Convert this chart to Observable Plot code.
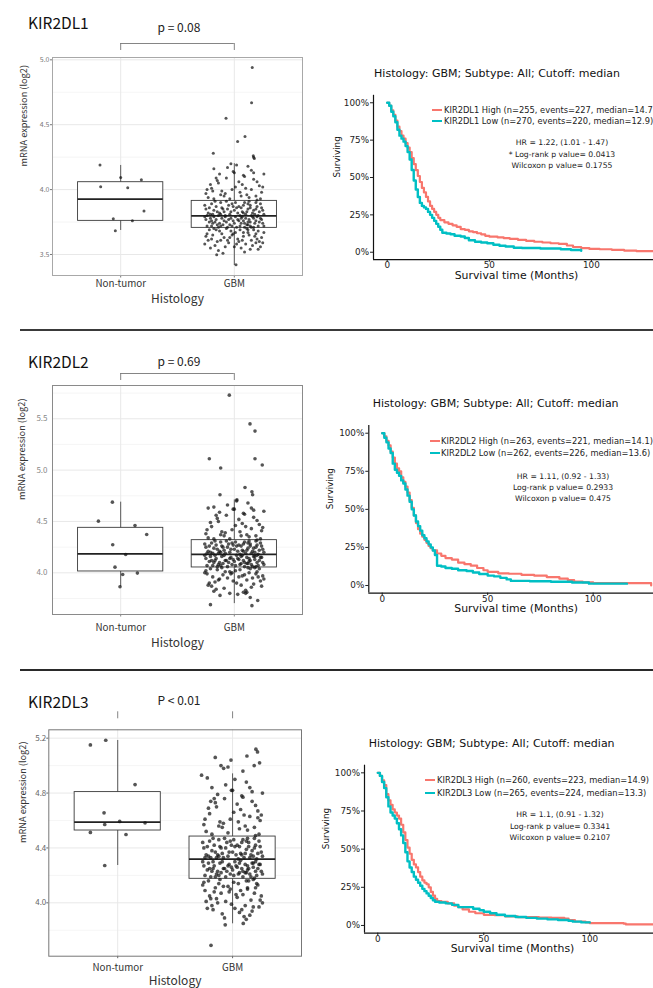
<!DOCTYPE html>
<html><head><meta charset="utf-8">
<script src="https://cdn.jsdelivr.net/npm/d3@7"></script>
<script src="https://cdn.jsdelivr.net/npm/@observablehq/plot@0.6"></script>
<style>
html,body{margin:0;padding:0;background:#fff}
#fig{position:relative;width:653px;height:988px;overflow:hidden;background:#fff}
#fig svg{position:absolute}
.box g[aria-label^="x-axis"] text{font-size:9.8px;fill:#333}
.lbl{position:absolute;white-space:nowrap;line-height:1}
</style></head>
<body><div id="fig"></div>
<script>
// ---------------- data ----------------
const histology = ["Non-tumor", "GBM"];
const genes = ["KIR2DL1", "KIR2DL2", "KIR2DL3"];
const pLabels = ["p = 0.08", "p = 0.69", "P < 0.01"];
const kmTitle = "Histology: GBM; Subtype: All; Cutoff: median";
const legendHigh = ["KIR2DL1 High (n=255, events=227, median=14.7)", "KIR2DL2 High (n=263, events=221, median=14.1)", "KIR2DL3 High (n=260, events=223, median=14.9)"];
const legendLow = ["KIR2DL1 Low (n=270, events=220, median=12.9)", "KIR2DL2 Low (n=262, events=226, median=13.6)", "KIR2DL3 Low (n=265, events=224, median=13.3)"];
const hrText = ["HR = 1.22, (1.01 - 1.47)", "HR = 1.11, (0.92 - 1.33)", "HR = 1.1, (0.91 - 1.32)"];
const logrankText = ["* Log-rank p value= 0.0413", "Log-rank p value= 0.2933", "Log-rank p value= 0.3341"];
const wilcoxText = ["Wilcoxon p value= 0.1755", "Wilcoxon p value= 0.475", "Wilcoxon p value= 0.2107"];

const yTicks1 = [3.5, 4.0, 4.5, 5.0], yMinor1 = [3.75, 4.25, 4.75];
const yTicks2 = [4.0, 4.5, 5.0, 5.5], yMinor2 = [3.75, 4.25, 4.75, 5.25, 5.75];
const yTicks3 = [4.0, 4.4, 4.8, 5.2], yMinor3 = [3.8, 4.2, 4.6, 5.0];
const kmXTicks = [0, 50, 100];
const kmYTicks = [0, 25, 50, 75, 100];

// box statistics (g: 1 = Non-tumor, 2 = GBM)
const box1 = [{g:1, lo:3.685, q1:3.759, med:3.926, q3:4.057, hi:4.186}, {g:2, lo:3.415, q1:3.705, med:3.798, q3:3.913, hi:4.20}];
const box2 = [{g:1, lo:3.864, q1:4.013, med:4.185, q3:4.438, hi:4.688}, {g:2, lo:3.70, q1:4.052, med:4.179, q3:4.318, hi:4.71}];
const box3 = [{g:1, lo:4.272, q1:4.527, med:4.588, q3:4.807, hi:5.183}, {g:2, lo:3.847, q1:4.175, med:4.318, q3:4.483, hi:4.94}];

// jittered points: [horizontal jitter, expression]
const nonTumor1 = [[-.182,4.19],[0,4.093],[-.176,4.021],[.062,4.014],[.182,4.075],[.205,3.836],[-.065,3.775],[.103,3.759],[-.047,3.682]];
const nonTumor2 = [[-.073,4.688],[-.196,4.503],[.126,4.461],[.229,4.373],[-.07,4.273],[.044,4.179],[-.05,4.055],[.018,3.984],[.147,3.997],[-.006,3.864]];
const nonTumor3 = [[-.238,5.151],[-.104,5.185],[.151,4.862],[-.119,4.656],[-.113,4.571],[.017,4.593],[.238,4.583],[-.238,4.513],[.072,4.498],[-.113,4.272]];

const gbm1 = [[-.18,3.70],[.05,3.69],[.21,3.68],[-.07,3.70],[.12,3.67],[-.24,3.66],[.17,3.69],[-.02,3.65],[.08,3.64],[-.13,3.68],[.24,3.63],[-.20,3.62],[.01,3.67],[.15,3.61],[-.09,3.63],[.19,3.66],[-.15,3.60],[.10,3.58],[-.25,3.64],[.03,3.62],[.22,3.60],[-.05,3.59],[.13,3.65],[-.17,3.57],[.07,3.61],[-.11,3.66],[.25,3.59],[-.22,3.69],[.00,3.56],[.16,3.57],[-.03,3.68],[.11,3.70],[-.19,3.65],[.06,3.55],[.20,3.62],[-.12,3.61],[.14,3.54],[-.26,3.58],[.04,3.60],[-.08,3.56],[.23,3.56],[-.14,3.53],[.09,3.52],[-.21,3.55],[.18,3.64],[-.01,3.66],[.26,3.67],[-.16,3.69],[.02,3.58],[.12,3.69],[-.06,3.61],[.21,3.54],[-.23,3.61],[.08,3.67],[-.10,3.51],[.19,3.59],[-.04,3.63],[-.155,3.497],[.015,3.42],
[-.20,3.72],[.06,3.74],[.17,3.71],[-.09,3.76],[.23,3.78],[-.15,3.73],[.01,3.79],[.12,3.75],[-.25,3.77],[.09,3.71],[-.04,3.73],[.19,3.76],[-.18,3.79],[.14,3.72],[-.11,3.78],[.03,3.77],[.25,3.74],[-.22,3.75],[.07,3.79],[-.06,3.71],[.16,3.79],[-.13,3.74],[.21,3.72],[-.01,3.76],[.10,3.78],[-.24,3.72],[.05,3.72],[-.16,3.77],[.18,3.74],[-.08,3.79],[.13,3.77],[-.20,3.76],[.00,3.74],[.24,3.77],[-.12,3.72],[.08,3.76],[-.03,3.78],[.15,3.71],[-.19,3.74],[.11,3.73],[-.07,3.75],[.22,3.75],[-.26,3.79],[.02,3.71],[.17,3.78],[-.14,3.71],[.06,3.78],[-.10,3.73],[.20,3.79],[-.05,3.77],[.14,3.75],[-.21,3.78],[.09,3.74],[-.02,3.72],[.26,3.72],[-.17,3.75],[.04,3.76],[.12,3.73],
[-.19,3.81],[.07,3.83],[.21,3.80],[-.06,3.85],[.14,3.88],[-.23,3.82],[.02,3.86],[.17,3.84],[-.12,3.90],[.10,3.81],[-.02,3.89],[.24,3.86],[-.16,3.87],[.05,3.80],[-.09,3.83],[.19,3.90],[-.25,3.85],[.12,3.85],[-.04,3.81],[.22,3.83],[-.14,3.80],[.00,3.84],[.16,3.82],[-.20,3.89],[.08,3.88],[-.11,3.86],[.26,3.81],[-.07,3.91],[.13,3.91],[-.18,3.84],[.03,3.82],[.20,3.87],[-.24,3.80],[.09,3.90],[-.01,3.87],[.15,3.80],[-.13,3.82],[.06,3.86],[-.22,3.86],[.18,3.81],[-.05,3.88],[.11,3.83],[-.17,3.91],[.23,3.89],[-.08,3.80],[.01,3.90],[.14,3.86],[-.15,3.83],[.25,3.84],[-.10,3.85],[.04,3.87],[-.21,3.81],[.19,3.85],[-.03,3.83],[.08,3.82],[-.26,3.88],[.12,3.89],[-.12,3.81],
[-.18,3.93],[.06,3.95],[.20,3.92],[-.08,3.97],[.15,4.00],[-.23,3.94],[.01,4.02],[.11,3.96],[-.14,4.05],[.24,3.98],[-.04,3.93],[.17,4.08],[-.20,4.01],[.08,4.11],[-.11,3.99],[.22,4.03],[-.01,4.14],[.13,3.94],[-.25,3.97],[.04,4.06],[-.16,4.09],[.19,3.95],[-.06,4.17],[.10,4.01],[-.21,4.04],[.26,4.12],[-.09,3.95],[.15,4.15],[-.13,4.12],[.02,4.19],[.20,4.06],[-.02,4.00],[.07,4.04],[-.18,4.16],[.23,3.93],[-.07,4.09],[.12,4.18],[-.24,4.00],[.17,4.13],[-.12,3.96],[.05,3.98],[-.03,4.20],[.09,4.10],[-.15,4.07],[.25,4.02],[.00,4.13],[-.19,3.99],
[.158,4.94],[.152,4.67],[-.073,4.55],[.094,4.41],[.029,4.37],[-.185,4.28],[.167,4.26],[.176,4.24],[.17,4.25]];

const gbm2 = [[-.21,4.04],[.05,4.03],[.18,4.05],[-.08,4.01],[.13,4.00],[-.25,4.02],[.22,4.04],[-.03,3.99],[.09,3.98],[-.15,4.03],[.25,3.97],[-.19,3.96],[.01,4.02],[.16,3.95],[-.10,3.98],[.20,4.01],[-.13,3.94],[.11,3.93],[-.24,3.99],[.04,3.96],[.23,3.92],[-.06,3.95],[.14,4.04],[-.17,3.91],[.07,3.97],[-.11,4.05],[.26,3.94],[-.22,3.90],[-.01,3.92],[.17,3.89],[-.04,4.01],[.12,4.05],[-.20,3.87],[.06,3.88],[.19,3.99],[-.14,3.93],[.15,3.86],[-.26,4.00],[.02,3.90],[-.09,3.85],[.24,3.87],[-.16,3.84],[.10,3.83],[-.23,3.88],[.21,3.96],[-.02,4.00],[.08,3.81],[-.18,3.82],[.03,3.79],[-.126,3.78],[-.04,3.80],[.10,3.80],[.11,3.81],[.206,3.73],[-.21,3.69],[.155,3.68],[.14,3.76],
[-.19,4.07],[.06,4.09],[.19,4.06],[-.08,4.12],[.24,4.15],[-.14,4.08],[.02,4.17],[.13,4.11],[-.25,4.14],[.09,4.06],[-.05,4.10],[.18,4.13],[-.17,4.17],[.15,4.08],[-.11,4.16],[.03,4.14],[.25,4.10],[-.22,4.11],[.07,4.17],[-.06,4.06],[.17,4.16],[-.13,4.10],[.21,4.07],[-.01,4.13],[.11,4.15],[-.24,4.07],[.05,4.08],[-.16,4.14],[.20,4.10],[-.09,4.17],[.13,4.14],[-.20,4.12],[.00,4.11],[.23,4.15],[-.12,4.07],[.08,4.12],[-.03,4.15],[.16,4.06],[-.18,4.10],[.11,4.09],[-.07,4.12],[.22,4.12],[-.26,4.17],[.01,4.07],[.18,4.16],[-.15,4.06],[.06,4.16],[-.10,4.09],[.20,4.17],[-.04,4.14],[.14,4.12],[-.21,4.16],[.09,4.10],[-.02,4.08],[.26,4.08],[-.17,4.12],[.04,4.13],[.12,4.09],
[-.19,4.19],[.07,4.22],[.21,4.18],[-.06,4.25],[.14,4.28],[-.23,4.21],[.02,4.26],[.17,4.24],[-.12,4.30],[.10,4.19],[-.02,4.29],[.24,4.26],[-.16,4.27],[.05,4.18],[-.09,4.22],[.19,4.31],[-.25,4.25],[.12,4.24],[-.04,4.20],[.22,4.22],[-.14,4.19],[.00,4.23],[.16,4.21],[-.20,4.29],[.08,4.28],[-.11,4.26],[.26,4.20],[-.07,4.31],[.13,4.31],[-.18,4.24],[.03,4.21],[.20,4.27],[-.24,4.19],[.09,4.30],[-.01,4.27],[.15,4.19],[-.13,4.21],[.06,4.26],[-.22,4.26],[.18,4.20],[-.05,4.28],[.11,4.22],[-.17,4.31],[.23,4.29],[-.08,4.19],[.01,4.30],[.14,4.26],[-.15,4.23],[.25,4.23],[-.10,4.25],[.04,4.27],[-.21,4.20],[.19,4.25],[-.03,4.23],[.08,4.21],[-.26,4.28],[.12,4.29],[-.12,4.20],
[-.18,4.33],[.06,4.36],[.20,4.32],[-.08,4.39],[.15,4.43],[-.23,4.34],[.01,4.46],[.11,4.37],[-.14,4.50],[.24,4.41],[-.04,4.33],[.17,4.54],[-.20,4.45],[.08,4.58],[-.11,4.40],[.22,4.47],[-.01,4.62],[.13,4.35],[-.25,4.38],[.04,4.52],[-.16,4.56],[.19,4.36],[-.06,4.66],[.10,4.45],[-.21,4.49],[.26,4.60],[-.09,4.36],[.15,4.63],[-.13,4.59],[.02,4.70],[.20,4.51],[-.02,4.42],[.07,4.48],[-.18,4.64],[.23,4.33],[-.07,4.56],[.12,4.68],[-.24,4.42],[.17,4.61],[-.12,4.37],[.05,4.40],[.09,4.57],[-.15,4.53],[.25,4.44],[.00,4.62],
[-.044,5.73],[.138,5.45],[.182,5.38],[-.22,5.11],[.182,5.11],[.246,5.05],[-.12,5.02],[.094,4.83],[.155,4.79],[-.126,4.76],[.161,4.76],[.023,4.71],[-.23,4.63]];

const gbm3 = [[-.21,4.16],[.05,4.14],[.18,4.17],[-.08,4.12],[.13,4.10],[-.25,4.15],[.22,4.13],[-.03,4.08],[.09,4.06],[-.15,4.11],[.25,4.05],[-.19,4.03],[.01,4.15],[.16,4.02],[-.10,4.07],[.20,4.11],[-.13,4.00],[.11,3.98],[-.24,4.09],[.04,4.04],[.23,3.97],[-.06,4.01],[.14,4.16],[-.17,3.95],[.07,4.09],[-.11,4.17],[.26,4.00],[-.22,3.96],[-.01,3.99],[.17,3.94],[-.04,4.12],[.12,4.16],[-.20,4.05],[.06,3.93],[.19,4.07],[-.14,4.03],[.15,3.91],[-.26,4.13],[.02,3.96],[-.09,3.92],[.24,4.02],[-.16,4.08],[.10,3.90],[-.23,4.01],[.21,4.14],[-.02,4.10],[.08,3.95],[-.18,3.98],[.03,4.06],[-.12,4.14],[.13,4.11],[-.188,3.69],[-.064,3.84],[.093,3.85],[.119,3.88],[-.07,3.89],[.18,3.97],
[-.19,4.19],[.06,4.22],[.19,4.18],[-.08,4.25],[.24,4.28],[-.14,4.21],[.02,4.30],[.13,4.24],[-.25,4.27],[.09,4.19],[-.05,4.23],[.18,4.26],[-.17,4.30],[.15,4.21],[-.11,4.29],[.03,4.27],[.25,4.23],[-.22,4.24],[.07,4.31],[-.06,4.19],[.17,4.29],[-.13,4.23],[.21,4.20],[-.01,4.26],[.11,4.28],[-.24,4.20],[.05,4.21],[-.16,4.27],[.20,4.23],[-.09,4.30],[.13,4.27],[-.20,4.25],[.00,4.24],[.23,4.28],[-.12,4.20],[.08,4.25],[-.03,4.28],[.16,4.19],[-.18,4.23],[.11,4.22],[-.07,4.25],[.22,4.25],[-.26,4.30],[.01,4.20],[.18,4.29],[-.15,4.19],[.06,4.29],[-.10,4.22],[.20,4.30],[-.04,4.27],[.14,4.25],[-.21,4.29],[.09,4.23],[-.02,4.21],[.26,4.21],[-.17,4.25],[.04,4.26],[.12,4.22],
[-.19,4.33],[.07,4.36],[.21,4.32],[-.06,4.40],[.14,4.44],[-.23,4.35],[.02,4.41],[.17,4.38],[-.12,4.46],[.10,4.33],[-.02,4.45],[.24,4.41],[-.16,4.42],[.05,4.32],[-.09,4.36],[.19,4.47],[-.25,4.40],[.12,4.39],[-.04,4.34],[.22,4.36],[-.14,4.33],[.00,4.37],[.16,4.35],[-.20,4.45],[.08,4.44],[-.11,4.41],[.26,4.34],[-.07,4.47],[.13,4.47],[-.18,4.38],[.03,4.35],[.20,4.42],[-.24,4.33],[.09,4.46],[-.01,4.42],[.15,4.33],[-.13,4.35],[.06,4.41],[-.22,4.41],[.18,4.34],[-.05,4.44],[.11,4.36],[-.17,4.47],[.23,4.45],[-.08,4.33],[.01,4.46],[.14,4.41],[-.15,4.37],[.25,4.37],[-.10,4.40],[.04,4.42],[-.21,4.34],[.19,4.40],[-.03,4.37],[.08,4.35],[-.26,4.44],[.12,4.45],[-.12,4.34],
[-.18,4.50],[.06,4.54],[.20,4.49],[-.08,4.58],[.15,4.63],[-.23,4.52],[.01,4.66],[.11,4.56],[-.14,4.70],[.24,4.60],[-.04,4.51],[.17,4.74],[-.20,4.65],[.08,4.78],[-.11,4.59],[.22,4.67],[-.01,4.82],[.13,4.53],[-.25,4.57],[.04,4.72],[-.16,4.76],[.19,4.55],[-.06,4.86],[.10,4.64],[-.21,4.69],[.26,4.80],[-.09,4.55],[.15,4.84],[-.13,4.79],[.02,4.90],[.20,4.71],[-.02,4.61],[.07,4.68],[-.18,4.84],[.23,4.50],[-.07,4.76],[.12,4.88],[-.24,4.61],[.17,4.81],[-.12,4.56],[.05,4.59],[.09,4.77],[-.15,4.73],[.25,4.64],[.00,4.82],[-.27,4.93],[-.22,4.91],[.22,4.62],[-.19,4.74],
[.203,5.12],[.217,5.10],[.125,5.07],[-.151,5.06],[-.014,5.04],[.235,5.02],[-.101,5.00],[.188,5.00],[-.078,4.98],[.09,4.96],[-.04,4.99]];

// Kaplan-Meier curves: [months, surviving %]
const kmHigh1 = [[0,100],[1,98],[2,95],[3,92],[4,88],[5,84],[6,81],[7,78],[8,76],[9,73],[10,70],[11,67],[12,63],[13,59],[14,55],[15,51],[16,47],[17,43],[18,40],[19,37],[20,34],[21,31],[22,29],[23,27],[24,25],[25,23],[26,21.5],[28,20],[30,19],[32,18],[34,17],[36,15.5],[38,15],[40,14],[42,13.5],[44,12.7],[46,12],[48,11],[50,10.5],[54,10],[57,9.5],[60,9],[64,8.3],[68,7.6],[72,7],[76,6.5],[80,6],[84,5.6],[88,4.5],[91,3.5],[95,2.8],[99,2.2],[104,2],[110,1.6],[116,1.1],[122,0.8],[134,0.8]];
const kmLow1 = [[0,100],[1,98],[2,94],[3,91],[4,87],[5,82],[6,78],[7,76],[8,74],[9,71],[10,67],[11,62],[12,55],[13,48],[14,42],[15,37],[16,33],[17,31],[18,30],[19,29],[20,27],[21,25],[22,23],[23,21],[24,19],[25,17],[26,15],[27,13],[29,12.5],[31,12],[33,11],[36,10.5],[38,9.5],[40,8],[43,7],[46,6.5],[49,6],[52,5],[55,4.3],[58,3.8],[62,3],[66,2.8],[75,2.5],[85,2],[90,1.5],[95,1]];
const kmHigh2 = [[0,100],[1,98],[2,95],[3,92],[4,88],[5,84],[6,80],[7,77],[8,75],[9,71],[10,68],[11,65],[12,61],[13,56],[14,51],[15,46],[16,41],[17,37],[18,34],[19,32],[20,30],[21,28],[22,26],[23,24.5],[24,23],[26,21],[28,19.5],[30,18],[33,17],[36,15],[39,14],[42,13],[45,11.5],[48,10],[50,9],[55,8],[60,7.7],[66,7],[72,6.5],[78,5.5],[84,4.5],[88,3.5],[91,2.5],[95,2],[100,1.5],[127,1.5],[127.5,0]];
const kmLow2 = [[0,100],[1,97],[2,94],[3,90],[4,87],[5,80],[6,76],[7,74],[8,72],[9,69],[10,67],[11,63],[12,59],[13,55],[14,50],[15,46],[16,42],[17,39],[18,36],[19,33],[20,31],[21,29],[22,27],[23,25],[24,23],[25,20],[26,13],[28,12.5],[30,11.5],[33,11],[36,10],[40,9.5],[43,8.5],[46,7.5],[50,6.5],[53,6],[56,5],[59,4],[61,3],[70,2.8],[80,2.5],[90,2],[98,1.2],[116,1.2]];
const kmHigh3 = [[0,100],[1,98],[2,95],[3,92],[4,86],[5,82],[6,79],[7,76],[8,74],[9,72],[10,70],[11,66],[12,61],[13,56],[14,51],[15,47],[16,43],[17,40],[18,38],[19,35],[20,32],[21,29.5],[22,28],[23,27],[24,25],[25,22],[26,19.5],[27,17.5],[28,16],[30,15.5],[33,14.5],[36,13],[38,12],[40,10.5],[43,9],[46,8],[50,7],[55,6.8],[60,6],[66,5.5],[76,5.2],[82,5],[88,4.5],[90,3.5],[93,2.6],[98,2],[100,1.5],[116,1.2],[117,0.7],[130,0.7]];
const kmLow3 = [[0,100],[1,98],[2,94],[3,90],[4,84],[5,78],[6,74],[7,72],[8,70],[9,67],[10,63],[11,59],[12,54],[13,48],[14,42],[15,38],[16,35],[17,32],[18,30],[19,28],[20,26],[21,24],[22,22.5],[23,21],[24,19.5],[25,18],[26,16.5],[27,15.5],[29,15],[32,14.5],[35,13.5],[38,12],[42,12],[45,11],[48,10],[50,9],[53,8],[56,7],[60,6.2],[65,5.5],[70,5],[75,4.5],[80,4],[85,3.6],[90,3],[92,2.5],[96,2],[100,2]];

// ---------------- drawing ----------------
const RED = "#F8766D", TEAL = "#00BFC4";
const fig = document.getElementById("fig");
const BOXFONT = "'Noto Sans CJK JP', 'Noto Sans', sans-serif";
const KMFONT = "'DejaVu Sans', sans-serif";

function label(text, x, y, o = {}) {
  const d = document.createElement("div");
  d.className = "lbl";
  d.textContent = text;
  Object.assign(d.style, {
    left: x + "px", top: y + "px",
    fontFamily: o.family || KMFONT, fontSize: (o.size || 10) + "px",
    color: o.color || "#111", fontWeight: o.weight || "normal",
    transform: `translate(${o.anchor === "start" ? "0" : "-50%"}, -50%)`
  });
  fig.appendChild(d);
}
function hline(x, y, w, h, color) {
  const d = document.createElement("div");
  Object.assign(d.style, {position: "absolute", left: x + "px", top: (y - h / 2) + "px", width: w + "px", height: h + "px", background: color});
  fig.appendChild(d);
}
function place(svg, left, top) {
  svg.style.left = left + "px"; svg.style.top = top + "px";
  fig.appendChild(svg);
}

function boxPanel(o) {
  const k = (o.height - o.mT - o.mB) / (o.dom[1] - o.dom[0]);
  const yBar = o.dom[1] + o.bracketGap / k;
  const yEnd = o.dom[1] + (o.bracketGap - 7) / k;
  const pts = [
    ...o.nt.map(([dx, y]) => ({x: 1 + dx, y})),
    ...o.gbm.map(([dx, y]) => ({x: 2 + dx, y}))
  ];
  const bw = 0.375;
  const marks = [
    Plot.ruleY(o.minor, {stroke: "#f1f1f1", strokeWidth: 0.7}),
    Plot.ruleY(o.ticks, {stroke: "#e8e8e8", strokeWidth: 1}),
    Plot.ruleX([1, 2], {stroke: "#e8e8e8", strokeWidth: 1}),
    Plot.ruleX(o.stats, {x: "g", y1: "lo", y2: "hi", stroke: "#333", strokeWidth: 0.8}),
    Plot.rect(o.stats, {x1: d => d.g - bw, x2: d => d.g + bw, y1: "q1", y2: "q3", fill: "white", stroke: "#3a3a3a", strokeWidth: 0.9}),
    Plot.ruleY(o.stats, {x1: d => d.g - bw, x2: d => d.g + bw, y: "med", stroke: "#222", strokeWidth: 1.8}),
    Plot.dot(pts, {x: "x", y: "y", r: o.r, fill: "#141414", fillOpacity: 0.72, stroke: null}),
    Plot.frame({stroke: o.frameColor, strokeWidth: 1}),
    Plot.ruleX([1, 2], {y1: yEnd, y2: yBar, stroke: "#777", strokeWidth: 0.9}),
    Plot.text(["mRNA expression (log2)"], {frameAnchor: "left", rotate: -90, dx: o.yTitleDx, fontSize: 9.2, fill: "#333"}),
    Plot.text(["Histology"], {frameAnchor: "bottom", dy: o.xTitleDy, fontSize: 12, fill: "#333"})
  ];
  if (o.bar) marks.push(Plot.ruleY([yBar], {x1: 1, x2: 2, stroke: "#777", strokeWidth: 0.9}));
  const svg = Plot.plot({
    className: "box",
    width: o.width, height: o.height,
    marginLeft: o.mL, marginRight: o.mR, marginTop: o.mT, marginBottom: o.mB,
    x: {domain: [0.4, 2.6], ticks: [1, 2], tickFormat: d => histology[d - 1], tickSize: 2.5, tickPadding: o.xPad, label: null},
    y: {domain: o.dom, ticks: o.ticks, tickFormat: d3.format(".1f"), tickSize: o.yTick, tickPadding: o.yPad, label: null},
    style: {fontFamily: BOXFONT, fontSize: o.yFont + "px", color: o.axisColor, background: "transparent", overflow: "visible"},
    marks
  });
  place(svg, o.left, o.top);
}

function kmPanel(o) {
  const svg = Plot.plot({
    width: o.width, height: o.height,
    marginLeft: o.mL, marginRight: 0, marginTop: o.mT, marginBottom: o.mB,
    x: {domain: o.xdom, ticks: kmXTicks, tickSize: 2.5, tickPadding: 0, label: null},
    y: {domain: [-5, 105], ticks: kmYTicks, tickFormat: d => d + "%", tickSize: 3, tickPadding: 1.5, label: null},
    style: {fontFamily: KMFONT, fontSize: "8.8px", color: "#222", background: "transparent", overflow: "hidden"},
    marks: [
      Plot.line(o.hi, {x: d => d[0], y: d => d[1], curve: "step-after", stroke: RED, strokeWidth: 2.2}),
      Plot.line(o.lo, {x: d => d[0], y: d => d[1], curve: "step-after", stroke: TEAL, strokeWidth: 2.4}),
      Plot.ruleX([o.xdom[0]], {stroke: "#111", strokeWidth: 1.2}),
      Plot.ruleY([-5], {stroke: "#111", strokeWidth: 1.2}),
      Plot.text(["Surviving"], {frameAnchor: "left", rotate: -90, dx: o.survDx, fontSize: 8.8, fill: "#111"}),
      Plot.text(["Survival time (Months)"], {frameAnchor: "bottom", dx: o.timeDx, dy: o.timeDy, fontSize: 10.9, fill: "#111"})
    ]
  });
  place(svg, o.left, o.top);
}

// Row 1
boxPanel({left: 0, top: 0, width: 330, height: 320, mL: 52, mR: 28, mT: 57, mB: 45,
  dom: [3.338, 5.018], ticks: yTicks1, minor: yMinor1, stats: box1, nt: nonTumor1, gbm: gbm1, r: 1.5,
  bracketGap: 14, bar: true, yTitleDx: -28, xTitleDy: 27, xPad: 2.3, yTick: 2, yPad: 1, yFont: 7, axisColor: "#777", frameColor: "#a8a8a8"});
// Row 2
boxPanel({left: 0, top: 330, width: 330, height: 330, mL: 52, mR: 28, mT: 55, mB: 46,
  dom: [3.594, 5.824], ticks: yTicks2, minor: yMinor2, stats: box2, nt: nonTumor2, gbm: gbm2, r: 1.8,
  bracketGap: 12, bar: true, yTitleDx: -30.7, xTitleDy: 32.5, xPad: 7, yTick: 0, yPad: 5, yFont: 8, axisColor: "#888", frameColor: "#8a8a8a"});
// Row 3
boxPanel({left: 0, top: 670, width: 330, height: 318, mL: 48.3, mR: 29, mT: 59.3, mB: 32.3,
  dom: [3.611, 5.261], ticks: yTicks3, minor: yMinor3, stats: box3, nt: nonTumor3, gbm: gbm3, r: 1.85,
  bracketGap: 18, bar: false, yTitleDx: -25.8, xTitleDy: 28.5, xPad: 5, yTick: 2, yPad: 0.5, yFont: 8, axisColor: "#666", frameColor: "#777"});

kmPanel({left: 330, top: 50, width: 344, height: 250, mL: 43, mT: 44.8, mB: 40.8, xdom: [-6.7, 140.7],
  hi: kmHigh1, lo: kmLow1, survDx: -36, timeDx: -7.5, timeDy: 19});
kmPanel({left: 320, top: 380, width: 343, height: 250, mL: 48.3, mT: 45.1, mB: 37.4, xdom: [-6.35, 133.35],
  hi: kmHigh2, lo: kmLow2, survDx: -38.3, timeDx: 0, timeDy: 19});
kmPanel({left: 320, top: 720, width: 336.5, height: 250, mL: 44, mT: 44.7, mB: 37.4, xdom: [-6.27, 131.7],
  hi: kmHigh3, lo: kmLow3, survDx: -38, timeDx: 1.75, timeDy: 19});

// separators
hline(20, 329.7, 633, 2, "#3a3a3a");
hline(20, 670, 633, 2, "#2a2a2a");

// box titles
const geneY = [22.5, 362, 702], pY = [27, 361, 700];
genes.forEach((g, i) => label(g, 28, geneY[i], {family: BOXFONT, size: 15.5, anchor: "start", color: "#111"}));
pLabels.forEach((p, i) => label(p, 179, pY[i], {family: BOXFONT, size: 12, color: "#222"}));

// KM titles, legends and statistics
const kmTitleXY = [[497, 73], [495.7, 403], [491.7, 742.7]];
const legXY = [[432, 444, 110, 121], [430, 441, 441, 452.7], [425, 437, 780, 792.7]];
const statXY = [[562, 143, 155, 166], [563, 476.7, 487.5, 498.5], [560, 815, 826.7, 837.5]];
for (let i = 0; i < 3; i++) {
  label(kmTitle, kmTitleXY[i][0], kmTitleXY[i][1], {size: 11, color: "#111"});
  const [lx, tx, y1, y2] = legXY[i];
  hline(lx, y1, 10, 2.4, RED);
  hline(lx, y2, 10, 2.4, TEAL);
  label(legendHigh[i], tx, y1, {size: 8.3, anchor: "start", color: "#222"});
  label(legendLow[i], tx, y2, {size: 8.3, anchor: "start", color: "#222"});
  const [sx, a, b, c] = statXY[i];
  label(hrText[i], sx, a, {size: 7.7, color: "#222"});
  label(logrankText[i], sx, b, {size: 7.7, color: "#222"});
  label(wilcoxText[i], sx, c, {size: 7.7, color: "#222"});
}
</script>
</body></html>
